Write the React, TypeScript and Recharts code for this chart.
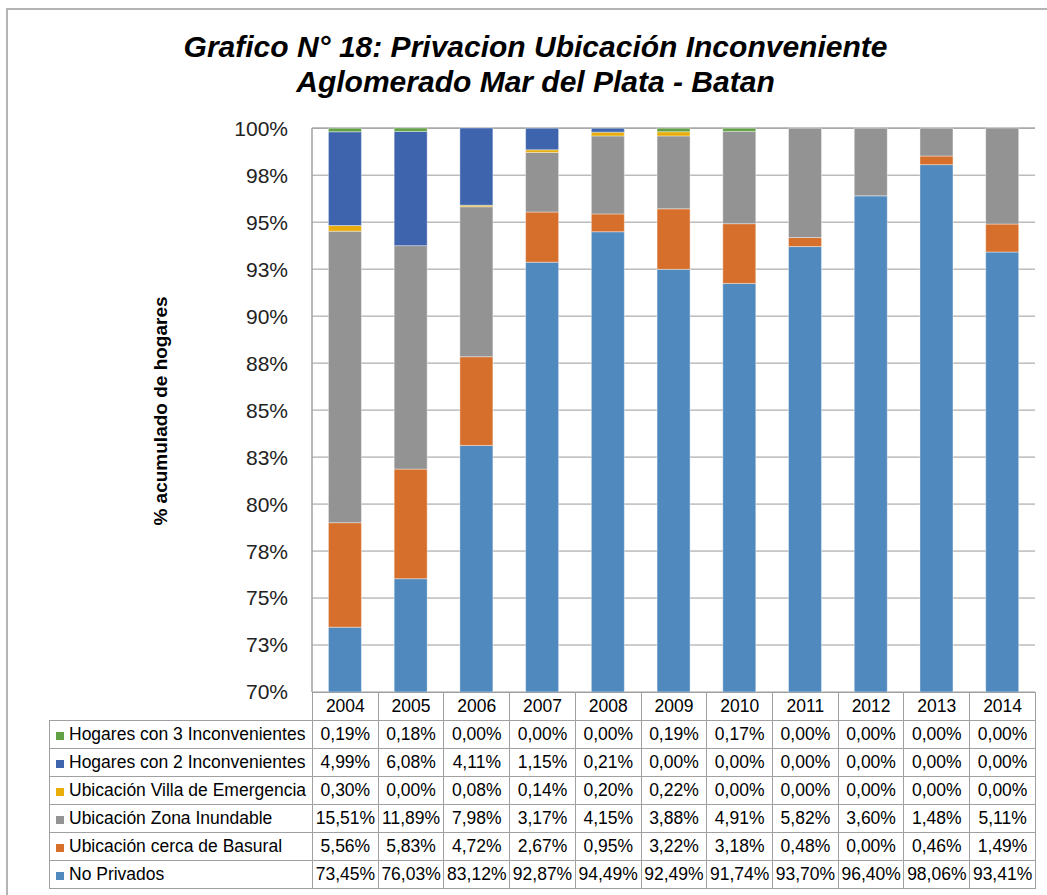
import React from 'react';
import { BarChart, Bar, XAxis, YAxis, CartesianGrid } from 'recharts';

const years = ['2004', '2005', '2006', '2007', '2008', '2009', '2010', '2011', '2012', '2013', '2014'];
const noPrivados = [73.45, 76.03, 83.12, 92.87, 94.49, 92.49, 91.74, 93.7, 96.4, 98.06, 93.41];
const cercaBasural = [5.56, 5.83, 4.72, 2.67, 0.95, 3.22, 3.18, 0.48, 0.0, 0.46, 1.49];
const zonaInundable = [15.51, 11.89, 7.98, 3.17, 4.15, 3.88, 4.91, 5.82, 3.6, 1.48, 5.11];
const villaEmergencia = [0.3, 0.0, 0.08, 0.14, 0.2, 0.22, 0.0, 0.0, 0.0, 0.0, 0.0];
const dosInconv = [4.99, 6.08, 4.11, 1.15, 0.21, 0.0, 0.0, 0.0, 0.0, 0.0, 0.0];
const tresInconv = [0.19, 0.18, 0.0, 0.0, 0.0, 0.19, 0.17, 0.0, 0.0, 0.0, 0.0];
const yTicks = [70, 72.5, 75, 77.5, 80, 82.5, 85, 87.5, 90, 92.5, 95, 97.5, 100];

// the axis starts at 70%, so the stack is drawn relative to that base
const AXIS_BASE = 70;

// stacking order, bottom to top
const series = [
  { key: 'np', name: 'No Privados', values: noPrivados, color: '#4f89bd' },
  { key: 'cb', name: 'Ubicación cerca de Basural', values: cercaBasural, color: '#d66f2b' },
  { key: 'zi', name: 'Ubicación Zona Inundable', values: zonaInundable, color: '#939393' },
  { key: 've', name: 'Ubicación Villa de Emergencia', values: villaEmergencia, color: '#e8ad0a' },
  { key: 'h2', name: 'Hogares con 2 Inconvenientes', values: dosInconv, color: '#3d64ad' },
  { key: 'h3', name: 'Hogares con 3 Inconvenientes', values: tresInconv, color: '#62a046' },
];

const data = years.map((y, i) => {
  const row: any = { year: y };
  series.forEach((s, k) => {
    row[s.key] = k === 0 ? s.values[i] - AXIS_BASE : s.values[i];
  });
  return row;
});

const fmt = (v: number) => v.toFixed(2).replace('.', ',') + '%';
const font = 'Arial, "Liberation Sans", sans-serif';
const lineCol = '#a0a0a0';

const cell: React.CSSProperties = {
  border: `1px solid ${lineCol}`,
  padding: 0,
  height: 27,
  textAlign: 'center',
  whiteSpace: 'nowrap',
  overflow: 'hidden',
};

export default function App() {
  return (
    <div
      style={{
        position: 'absolute',
        left: 0,
        top: 0,
        width: 1047,
        height: 895,
        overflow: 'hidden',
        background: '#fff',
        fontFamily: font,
      }}
    >
      <div
        style={{
          position: 'absolute',
          left: 6,
          top: 8,
          width: 1100,
          height: 1000,
          borderLeft: '2px solid #b4b4b4',
          borderTop: '2px solid #b4b4b4',
        }}
      />
      <div
        style={{
          position: 'absolute',
          left: 0,
          top: 29,
          width: 1071,
          textAlign: 'center',
          fontSize: 30,
          lineHeight: '35px',
          fontWeight: 'bold',
          fontStyle: 'italic',
          color: '#000',
        }}
      >
        <div>Grafico N° 18: Privacion Ubicación Inconveniente</div>
        <div>Aglomerado Mar del Plata - Batan</div>
      </div>

      <svg style={{ position: 'absolute', left: 0, top: 0 }} width={320} height={700}>
        <text
          x={160}
          y={411}
          transform="rotate(-90, 160, 411)"
          textAnchor="middle"
          dominantBaseline="central"
          fontFamily={font}
          fontSize={19}
          fontWeight="bold"
          fill="#000"
        >
          % acumulado de hogares
        </text>
      </svg>

      <div style={{ position: 'absolute', left: 0, top: 0 }}>
        <BarChart
          width={1047}
          height={704}
          data={data}
          margin={{ top: 128, right: 12, bottom: 0, left: 232 }}
          barCategoryGap="25%"
        >
          <CartesianGrid vertical={false} stroke="#9a9a9a" strokeWidth={1} />
          <XAxis dataKey="year" tick={false} tickLine={false} axisLine={false} height={12} />
          <YAxis
            width={80}
            domain={[0, 30]}
            ticks={yTicks.map((t) => t - AXIS_BASE)}
            interval={0}
            tickLine={false}
            tickMargin={18}
            axisLine={{ stroke: lineCol, strokeWidth: 1.5 }}
            tick={{ fill: '#222', fontSize: 21, fontFamily: font }}
            tickFormatter={(v: number) => `${Math.round(v + AXIS_BASE)}%`}
          />
          {series.map((s) => (
            <Bar
              key={s.key}
              dataKey={s.key}
              name={s.name}
              stackId="a"
              fill={s.color}
              stroke="#ffffff"
              strokeWidth={0.4}
              isAnimationActive={false}
            />
          ))}
        </BarChart>
      </div>

      <table
        style={{
          position: 'absolute',
          left: 49,
          top: 692,
          width: 987,
          borderCollapse: 'collapse',
          tableLayout: 'fixed',
          fontSize: 17.5,
          color: '#000',
          fontFamily: font,
        }}
      >
        <colgroup>
          <col style={{ width: 263 }} />
          {years.map((y) => (
            <col key={y} />
          ))}
        </colgroup>
        <tbody>
          <tr>
            <td style={{ ...cell, border: 'none' }} />
            {years.map((y) => (
              <td key={y} style={cell}>
                {y}
              </td>
            ))}
          </tr>
          {[...series].reverse().map((s) => (
            <tr key={s.key}>
              <td style={{ ...cell, textAlign: 'left', paddingLeft: 6 }}>
                <span
                  style={{
                    display: 'inline-block',
                    width: 8,
                    height: 8,
                    background: s.color,
                    marginRight: 5,
                  }}
                />
                {s.name}
              </td>
              {s.values.map((v, i) => (
                <td key={i} style={cell}>
                  {fmt(v)}
                </td>
              ))}
            </tr>
          ))}
        </tbody>
      </table>
    </div>
  );
}
